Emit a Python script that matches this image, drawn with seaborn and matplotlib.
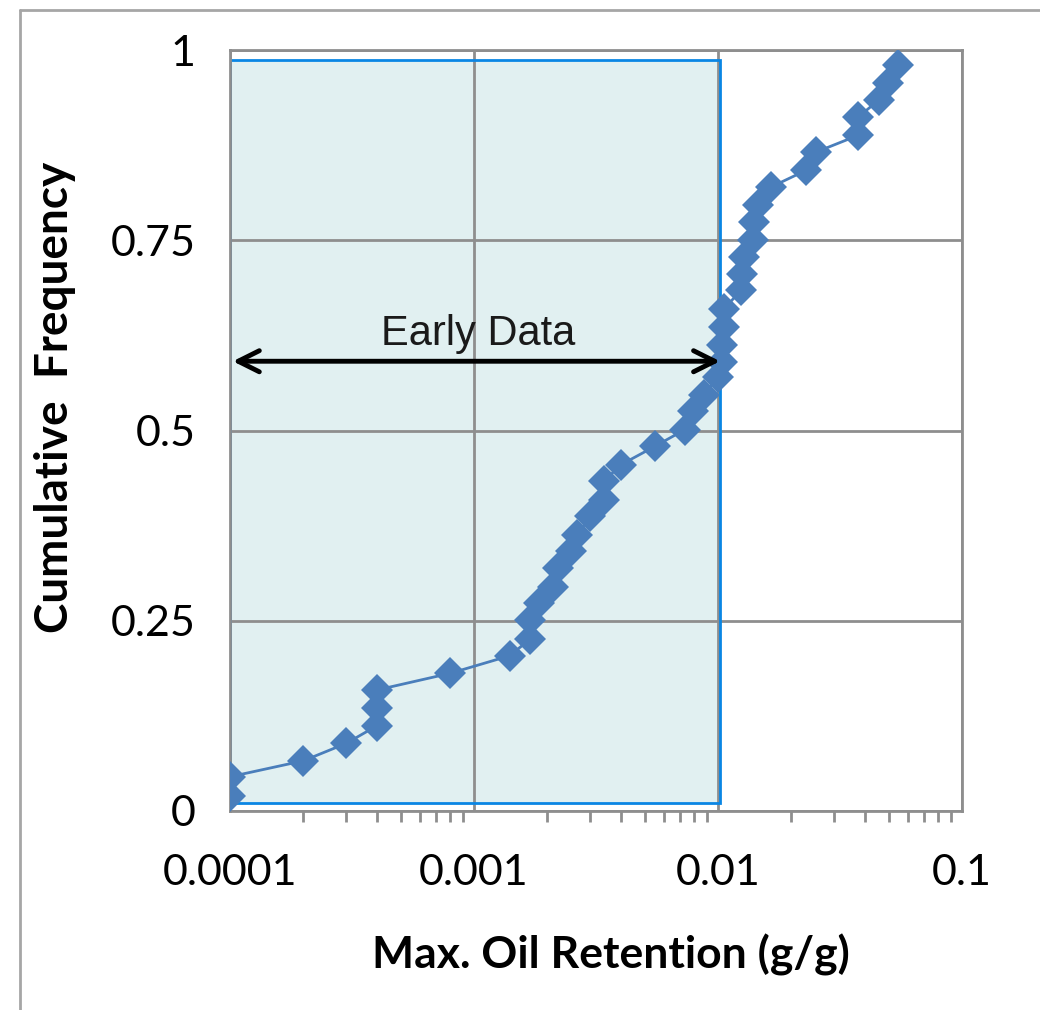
import numpy as np
import pandas as pd
import matplotlib
matplotlib.use('Agg')
import matplotlib.pyplot as plt
from matplotlib.patches import Rectangle
from matplotlib.lines import Line2D
import seaborn as sns

# Data
oil_retention = [0.0001, 0.0001, 0.0002, 0.0003, 0.0004, 0.0004, 0.0004, 0.0008, 0.0014,
                 0.0017, 0.0017, 0.00185, 0.0021, 0.0022, 0.0025, 0.00265, 0.0030, 0.0034,
                 0.0034, 0.0040, 0.0055, 0.0073, 0.0079, 0.0088, 0.0100, 0.0104, 0.0104,
                 0.0106, 0.0106, 0.0124, 0.0126, 0.0128, 0.0139, 0.0141, 0.0146, 0.0165,
                 0.0230, 0.0253, 0.0376, 0.0376, 0.0455, 0.0499, 0.0548]
cum_freq = [0.020, 0.045, 0.066, 0.089, 0.112, 0.135, 0.159, 0.181, 0.204,
            0.226, 0.251, 0.273, 0.295, 0.319, 0.341, 0.363, 0.387, 0.409,
            0.433, 0.455, 0.479, 0.501, 0.525, 0.547, 0.570, 0.590, 0.612,
            0.636, 0.660, 0.684, 0.706, 0.728, 0.750, 0.774, 0.796, 0.820,
            0.842, 0.866, 0.888, 0.912, 0.934, 0.956, 0.980]
x_ticks = [0.0001, 0.001, 0.01, 0.1]
x_tick_labels = ['0.0001', '0.001', '0.01', '0.1']
y_ticks = [0, 0.25, 0.5, 0.75, 1]
y_tick_labels = ['0', '0.25', '0.5', '0.75', '1']

# early data window
early_x = (0.0001, 0.0102)
early_y = (0.011, 0.987)
arrow_y = 0.591

df = pd.DataFrame({'retention': oil_retention, 'freq': cum_freq})

sns.set_theme(style='white')
plt.rcParams['font.family'] = ['Lato', 'DejaVu Sans']

grid_col = '#8E8E8E'
fig = plt.figure(figsize=(10.4, 10.1), dpi=100)
ax = fig.add_axes([230 / 1040, 1 - 811 / 1010, 732 / 1040, 761 / 1010])

# shaded window (fill under grid, edge above)
ax.add_patch(Rectangle((early_x[0], early_y[0]), early_x[1] - early_x[0], early_y[1] - early_y[0],
                       facecolor='#E1F0F1', edgecolor='none', zorder=0.3))
ax.add_patch(Rectangle((early_x[0], early_y[0]), early_x[1] - early_x[0], early_y[1] - early_y[0],
                       facecolor='none', edgecolor='#0A86E4', linewidth=2, zorder=1.5))

sns.lineplot(data=df, x='retention', y='freq', ax=ax, sort=False, estimator=None,
             color='#4A7EBB', linewidth=2, marker='D', markersize=16,
             markeredgewidth=0, zorder=3)

ax.set_xscale('log')
ax.set_xlim(0.0001, 0.1)
ax.set_ylim(0, 1)
ax.set_xticks(x_ticks)
ax.set_xticklabels(x_tick_labels)
ax.set_yticks(y_ticks)
ax.set_yticklabels(y_tick_labels)
ax.grid(True, which='major', color=grid_col, linewidth=2, zorder=1)
ax.set_axisbelow(True)
for sp in ax.spines.values():
    sp.set_color(grid_col)
    sp.set_linewidth(2)

ax.tick_params(axis='both', which='major', direction='out', length=11, width=2,
               color=grid_col, labelsize=31, labelcolor='black')
ax.tick_params(axis='x', which='major', pad=20)
ax.tick_params(axis='y', which='major', pad=14)
ax.tick_params(axis='x', which='minor', bottom=True, direction='out', length=8, width=2,
               color=grid_col)

# arrow + label
ax.annotate('', xy=(0.0001, arrow_y), xytext=(0.0102, arrow_y),
            arrowprops=dict(arrowstyle='<->', color='black', lw=3.5,
                            mutation_scale=38, shrinkA=0, shrinkB=2), zorder=4)
ax.text(0.00104, 0.612, 'Early Data', ha='center', va='baseline', fontsize=30,
        family=['Liberation Sans', 'DejaVu Sans'], color='#1A1A1A', zorder=4)

ax.set_xlabel('Max. Oil Retention (g/g)', fontsize=32, fontweight='bold', va='center', color='black')
ax.set_ylabel('Cumulative  Frequency', fontsize=33, fontweight='bold', va='center', color='black')
ax.xaxis.set_label_coords(0.52, -0.189)
ax.yaxis.set_label_coords(-0.239, 0.544)

# outer frame lines of the picture
fig.add_artist(Line2D([20 / 1040, 20 / 1040], [0, 1 - 10 / 1010], transform=fig.transFigure,
                      color='#A6A6A6', lw=2))
fig.add_artist(Line2D([20 / 1040, 1], [1 - 10 / 1010, 1 - 10 / 1010], transform=fig.transFigure,
                      color='#A6A6A6', lw=2))

fig.savefig('out.png', dpi=100)
